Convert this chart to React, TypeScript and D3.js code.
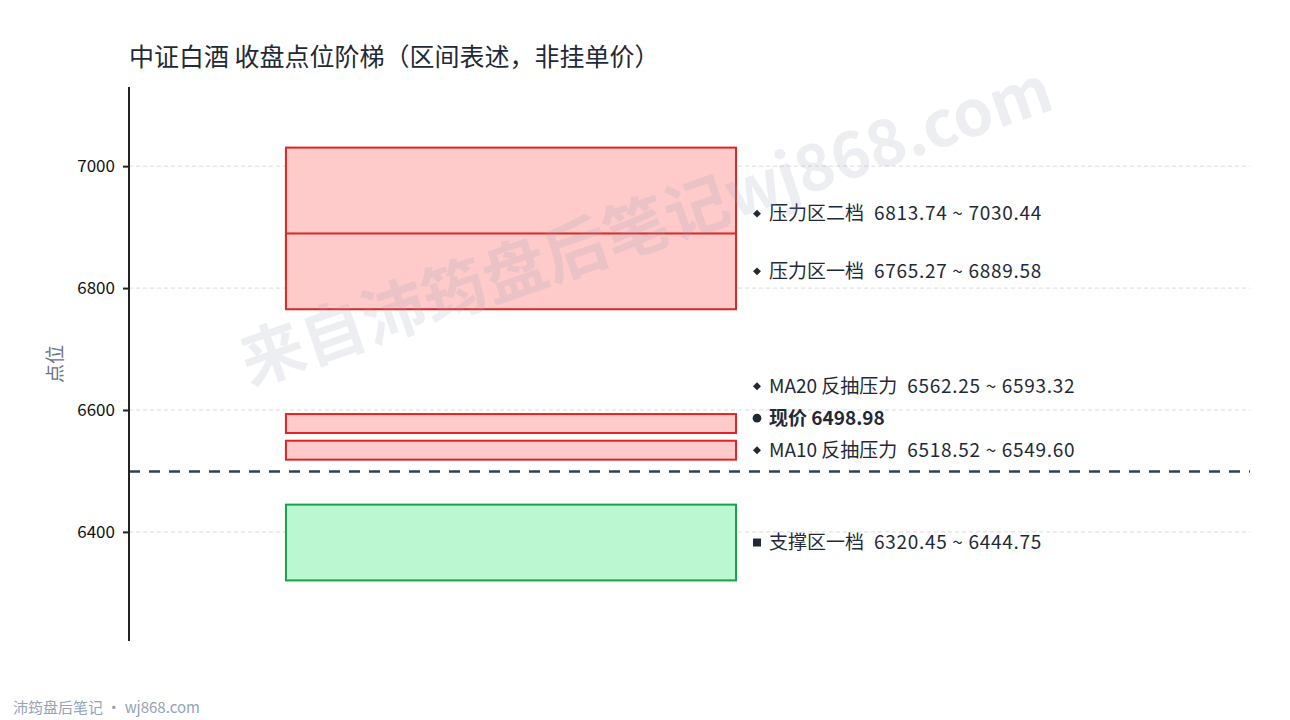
import React, { useEffect, useRef } from 'react';
import * as d3 from 'd3';

// zones, drawn in this order (later ones on top)
const zoneNames: string[] = ['压力区二档', '压力区一档', 'MA20 反抽压力', 'MA10 反抽压力', '支撑区一档'];
const zoneLows: number[] = [6813.74, 6765.27, 6562.25, 6518.52, 6320.45];
const zoneHighs: number[] = [7030.44, 6889.58, 6593.32, 6549.60, 6444.75];
const zoneKinds: string[] = ['pressure', 'pressure', 'pressure', 'pressure', 'support'];

const currentLabel = '现价';
const currentPrice = 6498.98;

const yTicks: number[] = [6400, 6600, 6800, 7000];

const title = '中证白酒 收盘点位阶梯（区间表述，非挂单价）';
const yTitle = '点位';
const footer = '沛筠盘后笔记 · wj868.com';
const watermark = '来自沛筠盘后笔记wj868.com';

const W = 1290;
const H = 720;
const FONT = '"Noto Sans CJK SC", "Noto Sans", sans-serif';

export default function App() {
  const ref = useRef<SVGSVGElement>(null);

  useEffect(() => {
    const svg = d3.select(ref.current);
    svg.selectAll('*').remove();

    const left = 129, right = 1250, top = 87, bottom = 641;
    const lo = d3.min(zoneLows) as number;
    const hi = d3.max(zoneHighs) as number;
    const pad = (hi - lo) * 0.14;

    const y = d3.scaleLinear().domain([lo - pad, hi + pad]).range([bottom, top]);
    const x = d3.scaleLinear().domain([0, 1]).range([left, right]);

    svg.append('rect').attr('width', W).attr('height', H).attr('fill', '#fff');

    // title
    svg.append('text')
      .attr('x', 129).attr('y', 66)
      .attr('font-size', 25).attr('fill', '#1f2937')
      .text(title);

    // grid
    svg.append('g').selectAll('line')
      .data(yTicks)
      .join('line')
      .attr('x1', left).attr('x2', right)
      .attr('y1', d => y(d)).attr('y2', d => y(d))
      .attr('stroke', '#dcdcdc').attr('stroke-width', 1)
      .attr('stroke-dasharray', '4,3');

    // zones
    const zones = zoneNames.map((n, i) => ({ name: n, low: zoneLows[i], high: zoneHighs[i], kind: zoneKinds[i] }));
    svg.append('g').selectAll('rect')
      .data(zones)
      .join('rect')
      .attr('x', x(0.14))
      .attr('width', x(0.5415) - x(0.14))
      .attr('y', d => y(d.high))
      .attr('height', d => y(d.low) - y(d.high))
      .attr('fill', d => d.kind === 'support' ? '#bbf7d0' : '#fecaca')
      .attr('stroke', d => d.kind === 'support' ? '#16a34a' : '#dc2626')
      .attr('stroke-width', 2);

    // current price line
    svg.append('line')
      .attr('x1', left).attr('x2', right)
      .attr('y1', y(currentPrice)).attr('y2', y(currentPrice))
      .attr('stroke', '#334155').attr('stroke-width', 2.5)
      .attr('stroke-dasharray', '11,9');

    // axis
    const axis = svg.append('g')
      .attr('transform', `translate(${left},0)`)
      .call(d3.axisLeft(y).tickValues(yTicks).tickSize(6).tickPadding(8).tickFormat(d3.format('d')));
    axis.select('.domain').remove();
    axis.selectAll('.tick line').attr('stroke', '#222').attr('stroke-width', 2);
    axis.selectAll('.tick text').attr('font-size', 17).attr('font-family', FONT).attr('fill', '#111');
    svg.append('line')
      .attr('x1', left).attr('x2', left).attr('y1', top).attr('y2', bottom)
      .attr('stroke', '#222').attr('stroke-width', 2);

    svg.append('text')
      .attr('transform', `translate(62,${(top + bottom) / 2}) rotate(-90)`)
      .attr('text-anchor', 'middle')
      .attr('font-size', 19).attr('fill', '#6b7280')
      .text(yTitle);

    // labels, ordered top to bottom, with collision relaxation (bottom-up)
    type Lab = { text: string; value?: string; want: number; shape: string; bold: boolean };
    const labs: Lab[] = zones.map(z => ({
      text: z.name,
      value: `${z.low.toFixed(2)} ~ ${z.high.toFixed(2)}`,
      want: y((z.low + z.high) / 2),
      shape: z.kind === 'support' ? 'square' : 'diamond',
      bold: false,
    }));
    labs.push({ text: `${currentLabel} ${currentPrice.toFixed(2)}`, want: y(currentPrice), shape: 'circle', bold: true });
    const order = [0, 1, 2, 5, 3, 4];
    const placed = order.map(i => ({ ...labs[i], y: labs[i].want }));
    const gap = 32;
    for (let i = placed.length - 2; i >= 0; i--) {
      placed[i].y = Math.min(placed[i].y, placed[i + 1].y - gap);
    }

    const lg = svg.append('g').selectAll('g')
      .data(placed)
      .join('g')
      .attr('transform', d => `translate(757,${d.y})`);
    lg.append('path')
      .attr('d', d => {
        if (d.shape === 'circle') return d3.symbol(d3.symbolCircle, 60)();
        if (d.shape === 'square') return d3.symbol(d3.symbolSquare, 64)();
        return d3.symbol(d3.symbolDiamond2, 40)();
      })
      .attr('fill', '#1f2937');
    const lt = lg.append('text')
      .attr('x', 12).attr('dy', '0.35em')
      .attr('font-size', 19)
      .attr('font-weight', d => d.bold ? 700 : 400)
      .attr('fill', '#1f2937')
      .style('white-space', 'pre');
    lt.append('tspan').text(d => d.text);
    lt.filter(d => !!d.value).append('tspan')
      .attr('letter-spacing', 0.7)
      .text(d => `  ${d.value}`);

    // watermark
    svg.append('text')
      .attr('transform', 'translate(646,226) rotate(-19)')
      .attr('text-anchor', 'middle').attr('dy', '0.35em')
      .attr('font-size', 64).attr('font-weight', 700)
      .attr('fill', '#94a3b8').attr('fill-opacity', 0.18)
      .text(watermark);

    // footer
    svg.append('text')
      .attr('x', 13).attr('y', 713)
      .attr('font-size', 15).attr('fill', '#94a3b8')
      .text(footer);
  }, []);

  return (
    <svg ref={ref} width={W} height={H} style={{ position: 'absolute', left: 0, top: 0, fontFamily: FONT }} />
  );
}
